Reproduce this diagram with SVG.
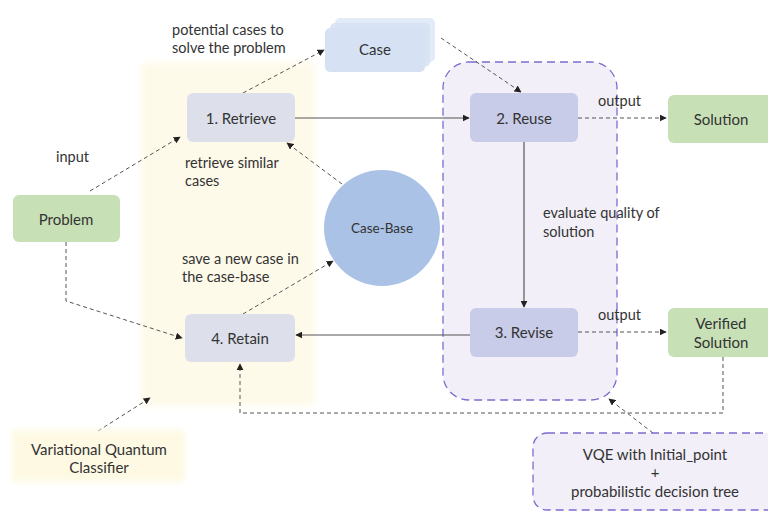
<svg xmlns="http://www.w3.org/2000/svg" width="768" height="514" viewBox="0 0 768 514">
<defs>
<marker id="ah" viewBox="0 0 10 10" refX="9" refY="5" markerWidth="7" markerHeight="7" orient="auto-start-reverse" markerUnits="userSpaceOnUse">
<path d="M0,0 L10,5 L0,10 z" fill="#222"/>
</marker>
<filter id="soft" x="-10%" y="-10%" width="120%" height="120%"><feGaussianBlur stdDeviation="3"/></filter>
</defs>
<style>
text{font-family:Lato,"Liberation Sans",sans-serif;fill:#333;}
.lbl{font-size:14.5px;}
.nt{font-size:15px;text-anchor:middle;dominant-baseline:central;}
.dash{fill:none;stroke:#555;stroke-width:1;stroke-dasharray:4 3;marker-end:url(#ah);}
.solid{fill:none;stroke:#555;stroke-width:1.2;marker-end:url(#ah);}
.gray{fill:#dde0ea;}
.lav{fill:#c9cce8;}
.green{fill:#c8e0b6;}
.case{fill:#d6e2f3;}
</style>
<rect width="768" height="514" fill="#ffffff"/>
<g id="region-retrieve-retain">
<rect x="141" y="62" width="174" height="344" rx="6" fill="#fefaea" filter="url(#soft)"/>
</g>
<g id="region-reuse-revise">
<rect x="443" y="62" width="174" height="338" rx="26" fill="#f2eff8" stroke="#7d6cd0" stroke-width="1.3" stroke-dasharray="8 5"/>
</g>
<g id="connectors">
<path class="dash" d="M90,191 L180,137"/>
<path class="dash" d="M243,93 L324,50"/>
<path class="dash" d="M441,38 L521,92"/>
<path class="solid" d="M295,118 L469,118"/>
<path class="dash" d="M342,184 L287,143"/>
<path class="dash" d="M578,118 L666,118"/>
<path class="solid" d="M524,142 L524,307"/>
<path class="dash" d="M578,332 L666,332"/>
<path class="solid" d="M470,335 L296,335"/>
<path class="dash" d="M66,242 L66,301 L182,338"/>
<path class="dash" d="M243,314 L333,261"/>
<path class="dash" d="M723,357 L723,413 L240,413 L240,364"/>
<path class="dash" d="M653,433 L609,399"/>
<path class="dash" d="M98,431 L150,398"/>
</g>
<g id="labels">
<text class="lbl" x="172" y="35">potential cases to</text>
<text class="lbl" x="172" y="53">solve the problem</text>
<text class="lbl" x="56" y="162">input</text>
<text class="lbl" x="185" y="168">retrieve similar</text>
<text class="lbl" x="185" y="186">cases</text>
<text class="lbl" x="182" y="264">save a new case in</text>
<text class="lbl" x="182" y="282">the case-base</text>
<text class="lbl" x="598" y="106">output</text>
<text class="lbl" x="598" y="320">output</text>
<text class="lbl" x="543" y="218">evaluate quality of</text>
<text class="lbl" x="543" y="237">solution</text>
</g>
<g id="case">
<rect class="case" x="335" y="18" width="100" height="44" rx="5" opacity="0.7"/>
<rect class="case" x="330" y="23" width="100" height="44" rx="5" opacity="0.85"/>
<rect class="case" x="325" y="28" width="100" height="44" rx="5"/>
<text class="nt" x="375" y="49">Case</text>
</g>
<g id="retrieve">
<rect class="gray" x="187" y="93" width="108" height="49" rx="6"/>
<text class="nt" x="241" y="118">1. Retrieve</text>
</g>
<g id="reuse">
<rect class="lav" x="470" y="93" width="108" height="49" rx="6"/>
<text class="nt" x="524" y="118">2. Reuse</text>
</g>
<g id="solution">
<rect class="green" x="668" y="95" width="106" height="48" rx="6"/>
<text class="nt" x="721" y="119">Solution</text>
</g>
<g id="problem">
<rect class="green" x="13" y="195" width="107" height="47" rx="6"/>
<text class="nt" x="66" y="219">Problem</text>
</g>
<g id="case-base">
<circle cx="382" cy="228" r="58" fill="#a9c2e6"/>
<text class="nt" x="382" y="228" style="font-size:13.5px">Case-Base</text>
</g>
<g id="retain">
<rect class="gray" x="185" y="314" width="110" height="48" rx="6"/>
<text class="nt" x="240" y="338">4. Retain</text>
</g>
<g id="revise">
<rect class="lav" x="470" y="308" width="108" height="49" rx="6"/>
<text class="nt" x="524" y="332">3. Revise</text>
</g>
<g id="verified-solution">
<rect class="green" x="668" y="308" width="106" height="49" rx="6"/>
<text class="nt" x="721" y="323">Verified</text>
<text class="nt" x="721" y="342">Solution</text>
</g>
<g id="vqc">
<rect x="12" y="430" width="173" height="52" rx="4" fill="#fdf9e3" filter="url(#soft)"/>
<text class="nt" x="99" y="449">Variational Quantum</text>
<text class="nt" x="99" y="467">Classifier</text>
</g>
<g id="vqe">
<rect x="533" y="433" width="250" height="77" rx="14" fill="#f2eff8" stroke="#7d6cd0" stroke-width="1.3" stroke-dasharray="8 5"/>
<text class="nt" x="655" y="454">VQE with Initial_point</text>
<text class="nt" x="655" y="472">+</text>
<text class="nt" x="655" y="491">probabilistic decision tree</text>
</g>
</svg>
